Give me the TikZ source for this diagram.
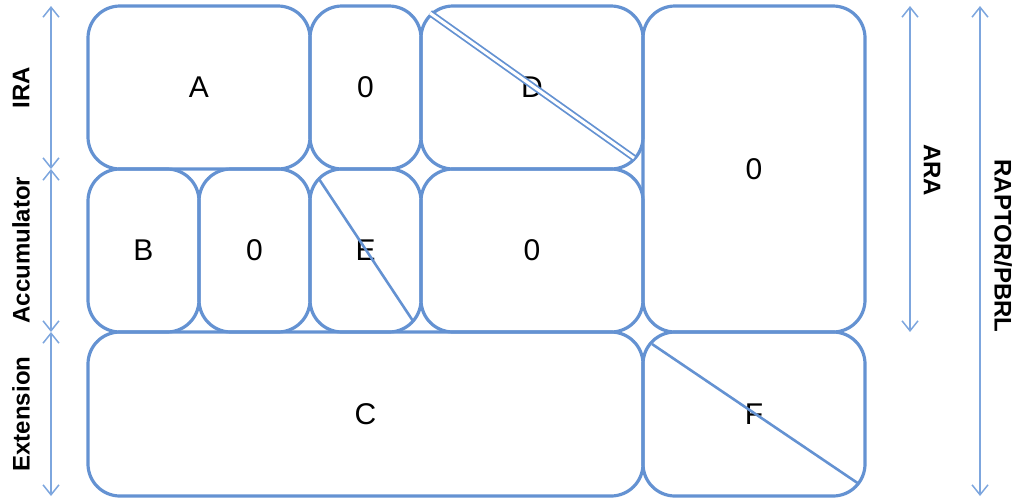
\documentclass[tikz,border=0pt]{standalone}
\usepackage{fontspec}
\setmainfont{Liberation Sans}
\usetikzlibrary{arrows.meta}
\definecolor{boxblue}{RGB}{100,146,210}
\definecolor{arrblue}{RGB}{125,166,222}
\tikzset{
  cell/.style={draw=boxblue, line width=3.2pt, rounded corners=32pt, inner sep=0pt, font=\fontsize{30}{36}\selectfont},
  diag/.style={draw=boxblue, line width=2.6pt},
  dim/.style={draw=arrblue, line width=1.5pt, {Straight Barb[length=10pt,width=16pt]}-{Straight Barb[length=10pt,width=16pt]}},
  lab/.style={font=\bfseries\fontsize{24}{28}\selectfont, inner sep=0pt}
}
\begin{document}
\begin{tikzpicture}[x=1pt,y=-1pt]
\useasboundingbox (0,0) rectangle (1016,499);
% row 1
\node[cell, minimum width=222pt, minimum height=163pt] (A) at (199,87.5) {A};
\node[cell, minimum width=111pt, minimum height=163pt] (Z1) at (365.5,87.5) {0};
\node[cell, minimum width=222pt, minimum height=163pt] (D) at (532,87.5) {D};
\node[cell, minimum width=222pt, minimum height=326pt] (Z2) at (754,169) {0};
% row 2
\node[cell, minimum width=111pt, minimum height=163pt] (B) at (143.5,250.5) {B};
\node[cell, minimum width=111pt, minimum height=163pt] (Z3) at (254.5,250.5) {0};
\node[cell, minimum width=111pt, minimum height=163pt] (E) at (365.5,250.5) {E};
\node[cell, minimum width=222pt, minimum height=163pt] (Z4) at (532,250.5) {0};
% row 3
\node[cell, minimum width=555pt, minimum height=164pt] (C) at (365.5,414) {C};
\node[cell, minimum width=222pt, minimum height=164pt] (F) at (754,414) {F};
% diagonals
\draw[draw=boxblue, line width=1.8pt, double=white, double distance=3pt] (430,13) -- (634,158);
\draw[diag] (319,179) -- (413,321);
\draw[diag] (652,344) -- (859,484);
% left dimension lines
\coordinate (l0) at (51,6);
\coordinate (l1) at (51,169);
\coordinate (l2) at (51,332);
\coordinate (l3) at (51,496);
\draw[dim] (l0) -- (l1);
\draw[dim] (l1) -- (l2);
\draw[dim] (l2) -- (l3);
\node[lab, rotate=90] (tIRA) at (21,88) {IRA};
\node[lab, rotate=90] (tAcc) at (21,250) {Accumulator};
\node[lab, rotate=90] (tExt) at (21,414) {Extension};
% right dimension lines
\coordinate (r0) at (910,6);
\coordinate (r1) at (910,332);
\coordinate (s0) at (980,6);
\coordinate (s1) at (980,496);
\draw[dim] (r0) -- (r1);
\draw[dim] (s0) -- (s1);
\node[lab, rotate=-90] (tARA) at (932,170) {ARA};
\node[lab, rotate=-90] (tRap) at (1003,246) {RAPTOR/PBRL};
\end{tikzpicture}
\end{document}
